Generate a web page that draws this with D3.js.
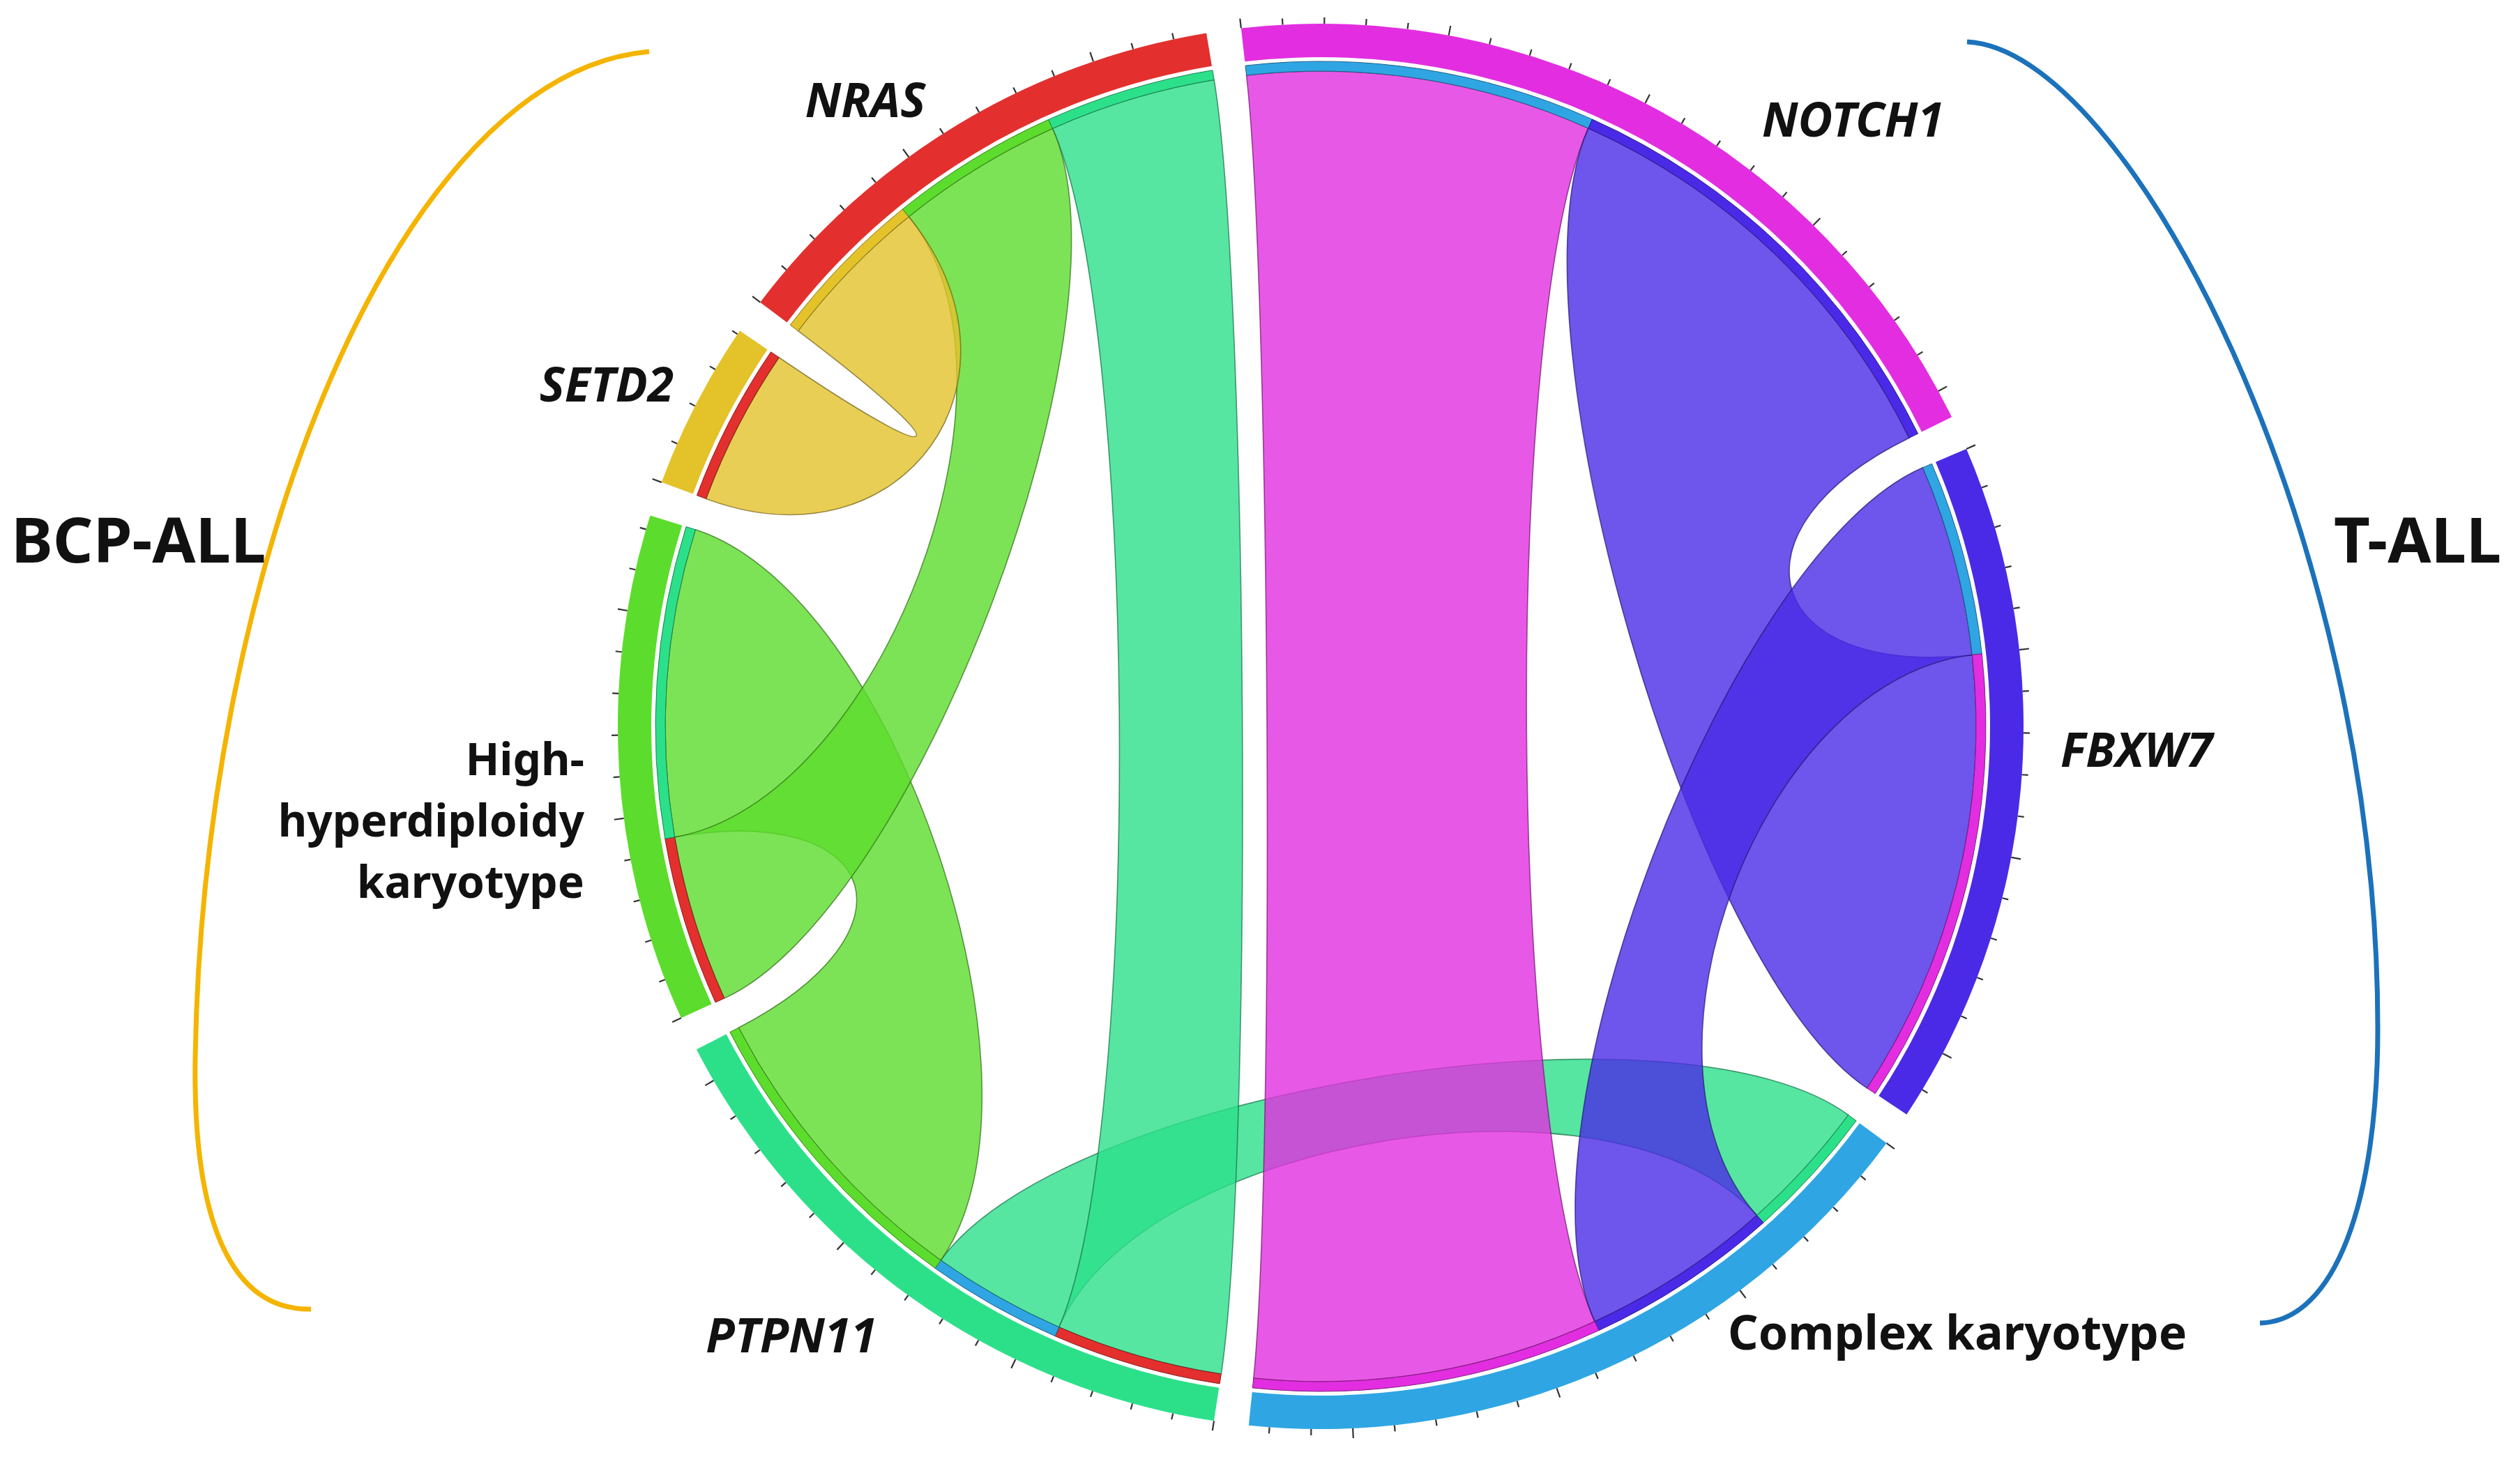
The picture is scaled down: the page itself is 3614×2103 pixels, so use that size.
<!DOCTYPE html>
<html>
<head>
<meta charset="utf-8">
<script src="https://cdn.jsdelivr.net/npm/d3@7"></script>
<style>
  body { margin: 0; background: #fff; }
  text { font-family: "Noto Sans", "Open Sans", sans-serif; font-weight: bold; fill: #111; }
</style>
</head>
<body>
<div id="chart"></div>
<script>
// segments, clockwise from the top gap
const groups = ["NOTCH1", "FBXW7", "Complex karyotype", "PTPN11", "High-hyperdiploidy karyotype", "SETD2", "NRAS"];
const groupColors = ["#e22ee0", "#4a2ae6", "#2fa6e3", "#2ce08a", "#5cdc2c", "#e3c22a", "#e3302e"];
const italicNames = [true, true, false, true, false, true, true];

// links between segments (drawn in this order)
const linkFrom = ["Complex karyotype", "NOTCH1", "NOTCH1", "FBXW7", "NRAS", "PTPN11", "NRAS", "NRAS"];
const linkTo = ["PTPN11", "Complex karyotype", "FBXW7", "Complex karyotype", "PTPN11", "High-hyperdiploidy karyotype", "High-hyperdiploidy karyotype", "SETD2"];
const linkValues = [3.5, 9.0, 11.7, 5.0, 4.35, 8.0, 4.35, 4.1];
const linkColorBy = ["PTPN11", "NOTCH1", "FBXW7", "FBXW7", "PTPN11", "High-hyperdiploidy karyotype", "High-hyperdiploidy karyotype", "SETD2"];

// order of the link ends inside each segment, clockwise
const endOrder = [
    ["Complex karyotype", "FBXW7"],
    ["Complex karyotype", "NOTCH1"],
    ["PTPN11", "FBXW7", "NOTCH1"],
    ["NRAS", "Complex karyotype", "High-hyperdiploidy karyotype"],
    ["NRAS", "PTPN11"],
    ["NRAS"],
    ["SETD2", "High-hyperdiploidy karyotype", "PTPN11"]
];

const subtypes = ["BCP-ALL", "T-ALL"];
const subtypeColors = ["#f4b400", "#1c72ba"];

const width = 3614, height = 2103;
const cx = 1894, cy = 1042;
const rOuter = 1008, rBandIn = 960, rTrackOut = 954, rTrackIn = 940;
const padUnits = 0.84;      // gap between segments, in value units
const startDeg = -6.5;      // where NOTCH1 begins
const bez = 0.68;           // control point radius of ribbons, share of rTrackIn

const svg = d3.select("#chart")
    .append("svg")
    .attr("width", width)
    .attr("height", height);

const g = svg.append("g").attr("transform", `translate(${cx},${cy})`);

// segment sizes = sum of their links
const totals = groups.map(name => d3.sum(linkValues.filter((v, i) => linkFrom[i] === name || linkTo[i] === name)));
const span = d3.sum(totals) + groups.length * padUnits;

const angle = d3.scaleLinear()
    .domain([0, span])
    .range([startDeg, startDeg + 360].map(d => d * Math.PI / 180));

let pos = 0;
const layout = groups.map((name, i) => {
    const s = pos;
    pos += totals[i] + padUnits;
    return { name: name, index: i, start: s, end: s + totals[i] };
});

// angles of every link end
const ends = {};
layout.forEach(seg => {
    let p = seg.start;
    endOrder[seg.index].forEach(partner => {
        const li = linkFrom.findIndex((f, i) =>
            (f === seg.name && linkTo[i] === partner) || (f === partner && linkTo[i] === seg.name));
        ends[li + "|" + seg.name] = { a0: angle(p), a1: angle(p + linkValues[li]), partner: partner };
        p += linkValues[li];
    });
});

const colorOf = name => groupColors[groups.indexOf(name)];
const pt = (a, r) => [r * Math.sin(a), -r * Math.cos(a)];

function ribbonPath(s, t) {
    const r = rTrackIn, h = Math.PI / 2;
    const p = d3.path();
    const s0 = pt(s.a0, r);
    p.moveTo(s0[0], s0[1]);
    p.arc(0, 0, r, s.a0 - h, s.a1 - h);
    let c1 = pt(s.a1, r * bez), c2 = pt(t.a0, r * bez), e = pt(t.a0, r);
    p.bezierCurveTo(c1[0], c1[1], c2[0], c2[1], e[0], e[1]);
    p.arc(0, 0, r, t.a0 - h, t.a1 - h);
    c1 = pt(t.a1, r * bez); c2 = pt(s.a0, r * bez);
    p.bezierCurveTo(c1[0], c1[1], c2[0], c2[1], s0[0], s0[1]);
    p.closePath();
    return p.toString();
}

// ribbons
g.append("g")
    .selectAll("path")
    .data(linkValues.map((v, i) => i))
    .join("path")
    .attr("d", i => ribbonPath(ends[i + "|" + linkFrom[i]], ends[i + "|" + linkTo[i]]))
    .attr("fill", i => colorOf(linkColorBy[i]))
    .attr("fill-opacity", 0.8)
    .attr("stroke", i => d3.color(colorOf(linkColorBy[i])).darker(2))
    .attr("stroke-opacity", 0.7)
    .attr("stroke-width", 1.6);

// thin inner track, coloured by the partner segment
const trackArc = d3.arc().innerRadius(rTrackIn).outerRadius(rTrackOut);
g.append("g")
    .selectAll("path")
    .data(Object.values(ends))
    .join("path")
    .attr("d", d => trackArc({ startAngle: d.a0, endAngle: d.a1 }))
    .attr("fill", d => colorOf(d.partner))
    .attr("stroke", d => d3.color(colorOf(d.partner)).darker(1.5))
    .attr("stroke-width", 1);

// outer band
const bandArc = d3.arc().innerRadius(rBandIn).outerRadius(rOuter);
g.append("g")
    .selectAll("path")
    .data(layout)
    .join("path")
    .attr("d", d => bandArc({ startAngle: angle(d.start), endAngle: angle(d.end) }))
    .attr("fill", d => groupColors[d.index]);

// ticks, one per unit
const ticks = [];
layout.forEach(seg => {
    d3.range(0, seg.end - seg.start + 1e-6, 1).forEach(v => ticks.push({ a: angle(seg.start + v), major: v % 5 === 0 }));
});
g.append("g")
    .selectAll("line")
    .data(ticks)
    .join("line")
    .attr("x1", d => pt(d.a, rOuter)[0])
    .attr("y1", d => pt(d.a, rOuter)[1])
    .attr("x2", d => pt(d.a, rOuter + (d.major ? 14 : 9))[0])
    .attr("y2", d => pt(d.a, rOuter + (d.major ? 14 : 9))[1])
    .attr("stroke", "#333")
    .attr("stroke-width", 2.2);

// segment labels
const labelSpots = [
    { x: 2527, y: 196, anchor: "start" },
    { x: 2955, y: 1100, anchor: "start" },
    { x: 2478, y: 1936, anchor: "start" },
    { x: 1135, y: 1940, anchor: "middle" },
    { x: 838, y: 1112, anchor: "end" },
    { x: 870, y: 576, anchor: "middle" },
    { x: 1241, y: 168, anchor: "middle" }
];
const labels = svg.append("g")
    .selectAll("text")
    .data(groups)
    .join("text")
    .attr("x", (d, i) => labelSpots[i].x)
    .attr("y", (d, i) => labelSpots[i].y)
    .attr("text-anchor", (d, i) => labelSpots[i].anchor)
    .attr("font-size", d => d === "High-hyperdiploidy karyotype" ? 64 : 68)
    .attr("font-style", (d, i) => italicNames[i] ? "italic" : "normal");

labels.each(function (d) {
    const t = d3.select(this);
    if (d === "High-hyperdiploidy karyotype") {
        ["High-", "hyperdiploidy", "karyotype"].forEach((line, j) => {
            t.append("tspan").attr("x", t.attr("x")).attr("dy", j === 0 ? 0 : 88).text(line);
        });
    } else {
        t.text(d);
    }
});

// subtype brackets
const brackets = [
    "M931,74 C575,105 292,800 280,1516 C276,1760 335,1880 446,1878",
    "M2821,60 C3050,70 3410,760 3410,1475 C3410,1720 3350,1895 3241,1898"
];
svg.append("g")
    .selectAll("path")
    .data(brackets)
    .join("path")
    .attr("d", d => d)
    .attr("fill", "none")
    .attr("stroke", (d, i) => subtypeColors[i])
    .attr("stroke-width", 7);

svg.append("g")
    .selectAll("text")
    .data(subtypes)
    .join("text")
    .attr("x", (d, i) => i === 0 ? 16 : 3347)
    .attr("y", 807)
    .attr("font-size", 90)
    .text(d => d);
</script>
</body>
</html>
